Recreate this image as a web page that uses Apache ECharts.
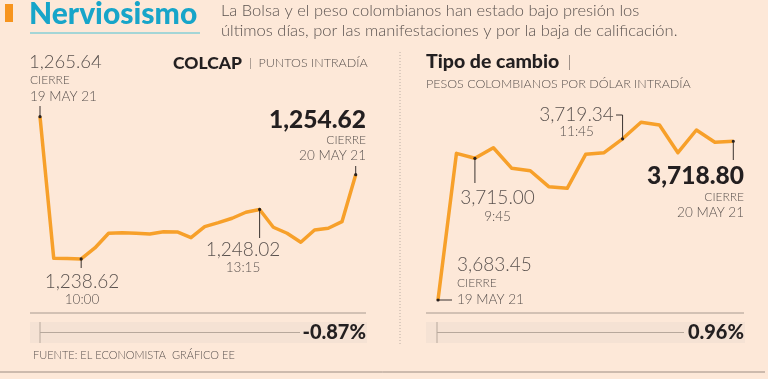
<!DOCTYPE html>
<html><head><meta charset="utf-8">
<script src="https://cdn.jsdelivr.net/npm/echarts@6/dist/echarts.min.js"></script>
<style>html,body{margin:0;padding:0;background:#fde8d8}#c{width:768px;height:379px}</style>
</head><body><div id="c"></div>
<script>
// ---- DATA ----
const colcapTimes = ['19 MAY 21','9:30','9:45','10:00','10:15','10:30','10:45','11:00','11:15','11:30','11:45','12:00','12:15','12:30','12:45','13:00','13:15','13:30','13:45','14:00','14:15','14:30','14:45','15:00'];
const colcapValues = [1265.64,1238.75,1238.70,1238.62,1240.71,1243.50,1243.61,1243.50,1243.37,1243.80,1243.75,1242.66,1244.75,1245.51,1246.35,1247.49,1248.02,1244.64,1243.50,1241.79,1244.13,1244.45,1245.70,1254.62];
const fxTimes = ['19 MAY 21','9:30','9:45','10:00','10:15','10:30','10:45','11:00','11:15','11:30','11:45','12:00','12:15','12:30','12:45','13:00','13:15'];
const fxValues = [3683.45,3716.11,3715.00,3717.36,3712.77,3712.24,3708.68,3708.32,3715.89,3716.25,3719.34,3723.02,3722.41,3716.25,3721.30,3718.56,3718.80];
const colcapChange = '-0.87%';
const fxChange = '0.96%';

// ---- CHART ----
const F = 'Lato, "Open Sans", sans-serif';
const gray = '#5b5350';
const dark = '#231f20';
const lineC = '#f7a02a';
const chart = echarts.init(document.getElementById('c'));
chart.setOption({
  backgroundColor: '#fde8d8',
  animation: false,
  grid: [
    {left: 40, top: 93.7, width: 315.7, height: 221.2},
    {left: 438, top: 113.4, width: 295.3, height: 202.1}
  ],
  xAxis: [
    {type: 'category', gridIndex: 0, data: colcapTimes, boundaryGap: false, show: false},
    {type: 'category', gridIndex: 1, data: fxTimes, boundaryGap: false, show: false}
  ],
  yAxis: [
    {type: 'value', gridIndex: 0, min: 1228, max: 1270, show: false},
    {type: 'value', gridIndex: 1, min: 3680, max: 3725, show: false}
  ],
  series: [
    {type: 'line', xAxisIndex: 0, yAxisIndex: 0, data: colcapValues, symbol: 'none', lineStyle: {color: lineC, width: 3.5, join: 'round'}, z: 3},
    {type: 'line', xAxisIndex: 1, yAxisIndex: 1, data: fxValues, symbol: 'none', lineStyle: {color: lineC, width: 3.5, join: 'round'}, z: 3}
  ]
});

function T(x, y, text, size, o) {
  o = o || {};
  return {type: 'text', x: x, y: y, z: 10, style: {
    text: text, fontSize: size, fontFamily: F, fontWeight: o.w || 300,
    fill: o.c || gray, textAlign: o.a || 'left', textVerticalAlign: 'middle',
    align: o.a || 'left', verticalAlign: 'middle', rich: o.rich
  }};
}
function L(x1, y1, x2, y2, c, w, dash) {
  return {type: 'line', z: 9, shape: {x1: x1, y1: y1, x2: x2, y2: y2},
    style: {stroke: c || '#3a3330', lineWidth: w || 1, lineDash: dash}};
}
function R(x, y, w, h, c) {
  return {type: 'rect', z: 1, shape: {x: x, y: y, width: w, height: h}, style: {fill: c}};
}
function dot(p) {
  return {type: 'circle', z: 11, shape: {cx: p[0], cy: p[1], r: 1.6}, style: {fill: '#2a2220'}};
}
const P0 = i => chart.convertToPixel({seriesIndex: 0}, [i, colcapValues[i]]);
const P1 = i => chart.convertToPixel({seriesIndex: 1}, [i, fxValues[i]]);

const g = [];
// header
g.push(R(5, 4, 8, 18, '#f7941d'));
g.push(T(29, 14, 'Nerviosismo', 30, {w: 900, c: '#17a5c9'}));
g.push(L(30, 33, 200, 33, '#86cfd6', 1.5));
g.push(T(221, 11, 'La Bolsa y el peso colombianos han estado bajo presión los', 16.5));
g.push(T(221, 31, 'últimos días, por las manifestaciones y por la baja de calificación.', 16.5));

// left panel
g.push(T(173, 63, '{b|COLCAP}{s|  |  PUNTOS INTRADÍA}', 12, {rich: {
  b: {fontSize: 17.5, fontWeight: 900, fontFamily: F, fill: dark, color: dark},
  s: {fontSize: 12.5, fontWeight: 300, fontFamily: F, fill: gray, color: gray}}}));
let p = P0(0);
g.push(T(29, 62, '1,265.64', 18.5));
g.push(T(30, 80, 'CIERRE', 12));
g.push(T(30, 97, '19 MAY 21', 13.5));
g.push(L(p[0], p[1], p[0], 106)); g.push(dot(p));
p = P0(3);
g.push(T(82, 282, '1,238.62', 19, {a: 'center'}));
g.push(T(82, 300, '10:00', 13.5, {a: 'center'}));
g.push(L(p[0], p[1], p[0], 268)); g.push(dot(p));
p = P0(16);
g.push(T(243, 250, '1,248.02', 19, {a: 'center'}));
g.push(T(243, 268, '13:15', 13.5, {a: 'center'}));
g.push(L(p[0], p[1], p[0], 238)); g.push(dot(p));
p = P0(colcapValues.length - 1);
g.push(T(366, 120, '1,254.62', 24.5, {w: 900, c: dark, a: 'right'}));
g.push(T(366, 140, 'CIERRE', 12, {a: 'right'}));
g.push(T(366, 156, '20 MAY 21', 13.5, {a: 'right'}));
g.push(L(p[0], p[1], p[0], 166)); g.push(dot(p));
g.push(L(30, 313, 366, 313, '#a89a90', 1));
g.push(R(30, 322, 337, 21, '#f5e2d4'));
g.push(L(40, 332.5, 300, 332.5, '#b7a89c', 1));
g.push(L(40, 322, 40, 343, '#b7a89c', 1));
g.push(T(366, 333, colcapChange, 20, {w: 900, c: dark, a: 'right'}));
g.push(T(33, 355, 'FUENTE: EL ECONOMISTA  GRÁFICO EE', 11));

// divider
g.push(L(400, 52, 400, 344, '#bcaea4', 1, [1, 2]));

// right panel
g.push(T(426, 62, '{b|Tipo de cambio}{s|  |}', 12, {rich: {
  b: {fontSize: 19.5, fontWeight: 900, fontFamily: F, fill: dark, color: dark},
  s: {fontSize: 15, fontWeight: 300, fontFamily: F, fill: gray, color: gray}}}));
g.push(T(426, 84, 'PESOS COLOMBIANOS POR DÓLAR INTRADÍA', 12.5));
p = P1(0);
g.push(T(457, 265, '3,683.45', 19));
g.push(T(457, 283, 'CIERRE', 12));
g.push(T(457, 300, '19 MAY 21', 13.5));
g.push(L(p[0], p[1], 452, p[1])); g.push(dot(p));
p = P1(2);
g.push(T(497.5, 198, '3,715.00', 19, {a: 'center'}));
g.push(T(497.5, 216.5, '9:45', 13.5, {a: 'center'}));
g.push(L(p[0], p[1], p[0], 183)); g.push(dot(p));
p = P1(10);
g.push(T(576.5, 115, '3,719.34', 19, {a: 'center'}));
g.push(T(576.5, 132, '11:45', 13.5, {a: 'center'}));
g.push(L(p[0], p[1], p[0], 115)); g.push(L(616, 115, p[0], 115)); g.push(dot(p));
p = P1(fxValues.length - 1);
g.push(T(744, 176, '3,718.80', 24.5, {w: 900, c: dark, a: 'right'}));
g.push(T(744, 197, 'CIERRE', 12, {a: 'right'}));
g.push(T(744, 213, '20 MAY 21', 13.5, {a: 'right'}));
g.push(L(p[0], p[1], p[0], 160)); g.push(dot(p));
g.push(L(426, 313, 744, 313, '#a89a90', 1));
g.push(R(426, 322, 319, 21, '#f5e2d4'));
g.push(L(437, 332.5, 684, 332.5, '#b7a89c', 1));
g.push(L(437, 322, 437, 343, '#b7a89c', 1));
g.push(T(744, 333, fxChange, 20, {w: 900, c: dark, a: 'right'}));

// bottom rule
g.push(L(0, 372, 765, 372, '#9c8c82', 1));

chart.setOption({graphic: {elements: g}});
</script>
</body></html>
